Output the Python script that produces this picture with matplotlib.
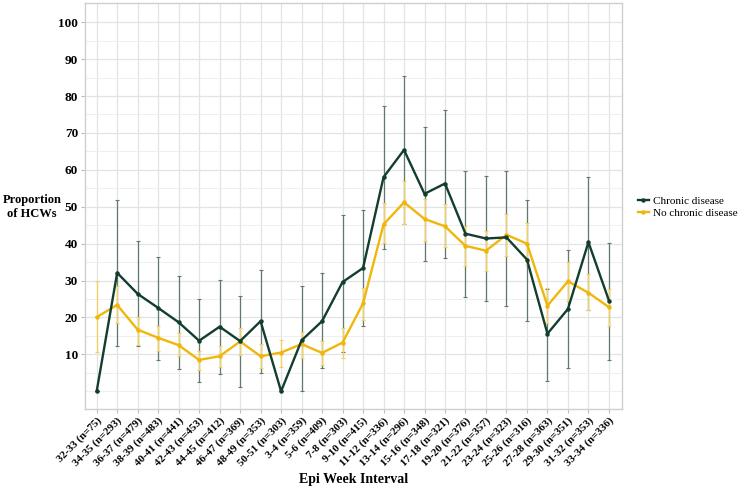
import numpy as np
import matplotlib
matplotlib.use("Agg")
import matplotlib.pyplot as plt

# Epi week intervals (x categories)
weeks = ["32-33 (n=75)", "34-35 (n=293)", "36-37 (n=479)", "38-39 (n=483)",
         "40-41 (n=441)", "42-43 (n=453)", "44-45 (n=412)", "46-47 (n=369)",
         "48-49 (n=353)", "50-51 (n=303)", "3-4 (n=359)", "5-6 (n=409)",
         "7-8 (n=303)", "9-10 (n=415)", "11-12 (n=336)", "13-14 (n=296)",
         "15-16 (n=348)", "17-18 (n=321)", "19-20 (n=376)", "21-22 (n=357)",
         "23-24 (n=323)", "25-26 (n=316)", "27-28 (n=363)", "29-30 (n=351)",
         "31-32 (n=353)", "33-34 (n=336)"]

# Chronic disease: estimate, lower, upper
chronic = [0, 32.1, 26.4, 22.6, 18.7, 13.7, 17.5, 13.6, 19.0, 0, 13.8, 19.0, 29.6,
           33.4, 58.0, 65.4, 53.5, 56.3, 42.7, 41.4, 41.7, 35.7, 15.6, 22.3, 40.4, 24.6]
chronic_lo = [0, 12.2, 12.4, 8.6, 6.1, 2.4, 4.8, 1.2, 5.0, 0, 0, 6.2, 10.7,
              17.8, 38.6, 45.4, 35.4, 36.1, 25.5, 24.5, 23.1, 19.1, 2.9, 6.3, 22.0, 8.4]
chronic_hi = [0, 51.7, 40.6, 36.3, 31.3, 25.1, 30.2, 25.9, 32.9, 0, 28.6, 32.0, 47.9,
              49.1, 77.2, 85.3, 71.7, 76.1, 59.8, 58.3, 59.8, 51.7, 27.8, 38.2, 58.0, 40.2]

# No chronic disease: estimate, lower, upper
no_chronic = [20.1, 23.4, 16.7, 14.5, 12.5, 8.5, 9.5, 13.5, 9.5, 10.5, 12.8, 10.4, 13.2,
              23.8, 45.2, 51.2, 46.7, 44.7, 39.4, 38.1, 42.4, 40.0, 23.2, 29.8, 26.7, 22.8]
no_chronic_lo = [10.6, 18.4, 12.5, 10.9, 9.5, 5.8, 6.7, 9.7, 6.2, 6.7, 9.1, 7.0, 9.1,
                 19.3, 40.2, 45.4, 40.8, 39.0, 33.9, 32.7, 36.6, 34.1, 18.6, 24.4, 21.9, 17.8]
no_chronic_hi = [29.8, 28.5, 20.2, 17.6, 15.7, 10.9, 12.4, 17.2, 12.9, 14.0, 16.1, 13.6, 17.2,
                 28.0, 51.0, 57.1, 52.1, 50.7, 44.7, 43.3, 48.1, 45.6, 28.0, 35.1, 31.8, 27.6]

dark = "#133d2f"
dark_err = "#5f7a6f"
yellow = "#f0b60a"
yellow_err = "#f3cf5c"

serif = ["Liberation Serif", "DejaVu Serif"]
plt.rcParams["font.family"] = serif

fig = plt.figure(figsize=(7.43, 4.86), dpi=100)
ax = fig.add_axes([0.1144, 0.1584, 0.7225, 0.8354])

x = np.arange(len(weeks))

def draw_err(est, lo, hi, color, z):
    est = np.array(est)
    yerr = np.vstack([est - np.array(lo), np.array(hi) - est])
    ax.errorbar(x, est, yerr=yerr, fmt="none", ecolor=color, elinewidth=0.9,
                capsize=1.2, capthick=0.8, zorder=z)

draw_err(chronic, chronic_lo, chronic_hi, dark_err, 2)
draw_err(no_chronic, no_chronic_lo, no_chronic_hi, yellow_err, 3)

ax.plot(x, no_chronic, color=yellow, lw=1.7, marker="o", ms=2.2, zorder=4,
        label="No chronic disease")
ax.plot(x, chronic, color=dark, lw=1.7, marker="o", ms=2.2, zorder=5,
        label="Chronic disease")

ax.set_xlim(-0.57, len(weeks) - 0.37)
ax.set_ylim(-4.8, 105.2)
ax.set_yticks(np.arange(10, 101, 10))
ax.set_yticks(np.arange(0, 101, 5), minor=True)
ax.set_xticks(x)
ax.set_xticklabels(weeks, rotation=45, ha="right", rotation_mode="anchor",
                   fontsize=7.8, fontweight="bold")
for lab in ax.get_yticklabels():
    lab.set_fontsize(9.5)
    lab.set_fontweight("bold")

ax.grid(True, which="major", color="#e3e3e3", lw=0.9)
ax.grid(True, which="minor", axis="y", color="#ececec", lw=0.6)
ax.set_axisbelow(True)
ax.tick_params(axis="both", which="major", color="#bdbdbd", length=3, width=0.8, pad=2)
ax.tick_params(axis="y", which="minor", length=0)
for sp in ax.spines.values():
    sp.set_color("#cfcfcf")
    sp.set_linewidth(1.0)

ax.set_xlabel("Epi Week Interval", fontsize=10, fontweight="bold", labelpad=3)
fig.text(0.043, 0.574, "Proportion\nof HCWs", ha="center", va="center",
         fontsize=9, fontweight="bold", linespacing=1.15)

handles, labels = ax.get_legend_handles_labels()
fig.legend(handles[::-1], labels[::-1], loc="center left",
           bbox_to_anchor=(0.845, 0.574), frameon=False, fontsize=8,
           handlelength=1.0, handletextpad=0.4, labelspacing=0.25)

fig.savefig("out.png", dpi=100)
